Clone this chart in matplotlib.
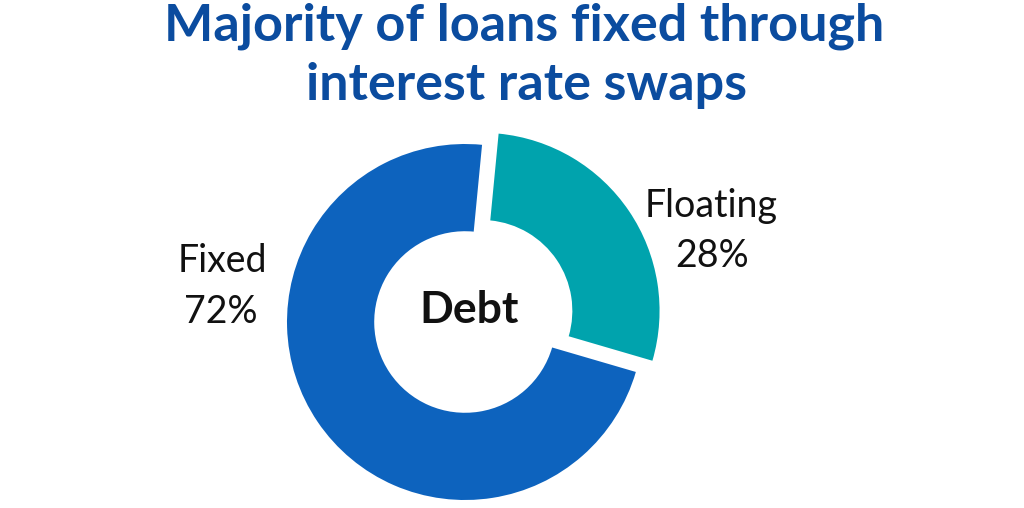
import matplotlib
matplotlib.use("Agg")
import matplotlib.pyplot as plt

categories = ["Fixed", "Floating"]
values = [72, 28]
pct_labels = ["72%", "28%"]
title_lines = ["Majority of loans fixed through", "interest rate swaps"]
center_label = "Debt"

W, H = 1024, 508
fig = plt.figure(figsize=(W / 100, H / 100), dpi=100)
ax = fig.add_axes([0, 0, 1, 1])

def py(y):
    return H - y

cx, cy, R = 465, 322, 178
ax.pie(values, colors=["#0D63BE", "#00A3AD"], radius=R, center=(cx, py(cy)),
       startangle=84.5, counterclock=True, explode=[0, 20],
       wedgeprops=dict(width=R * 0.49, linewidth=0), frame=True)
ax.set_xlim(0, W)
ax.set_ylim(0, H)
ax.set_aspect("equal")
ax.axis("off")

fam = ["Lato", "DejaVu Sans"]
tc = "#0B4C9F"
ax.text(524, py(41), title_lines[0], ha="center", va="baseline", fontsize=37.5,
        fontweight="bold", color=tc, family=fam)
ax.text(526, py(100), title_lines[1], ha="center", va="baseline", fontsize=37.5,
        fontweight="bold", color=tc, family=fam)

ax.text(469, py(323), center_label, ha="center", va="baseline", fontsize=32,
        fontweight="bold", color="#111111", family=fam)

lfs = 27
ax.text(222, py(272), categories[0], ha="center", va="baseline", fontsize=lfs,
        color="#111111", family=fam)
ax.text(221, py(323), pct_labels[0], ha="center", va="baseline", fontsize=lfs,
        color="#111111", family=fam)
ax.text(711, py(217), categories[1], ha="center", va="baseline", fontsize=lfs,
        color="#111111", family=fam)
ax.text(712, py(267), pct_labels[1], ha="center", va="baseline", fontsize=lfs,
        color="#111111", family=fam)

fig.savefig("out.png", dpi=100, facecolor="white")
